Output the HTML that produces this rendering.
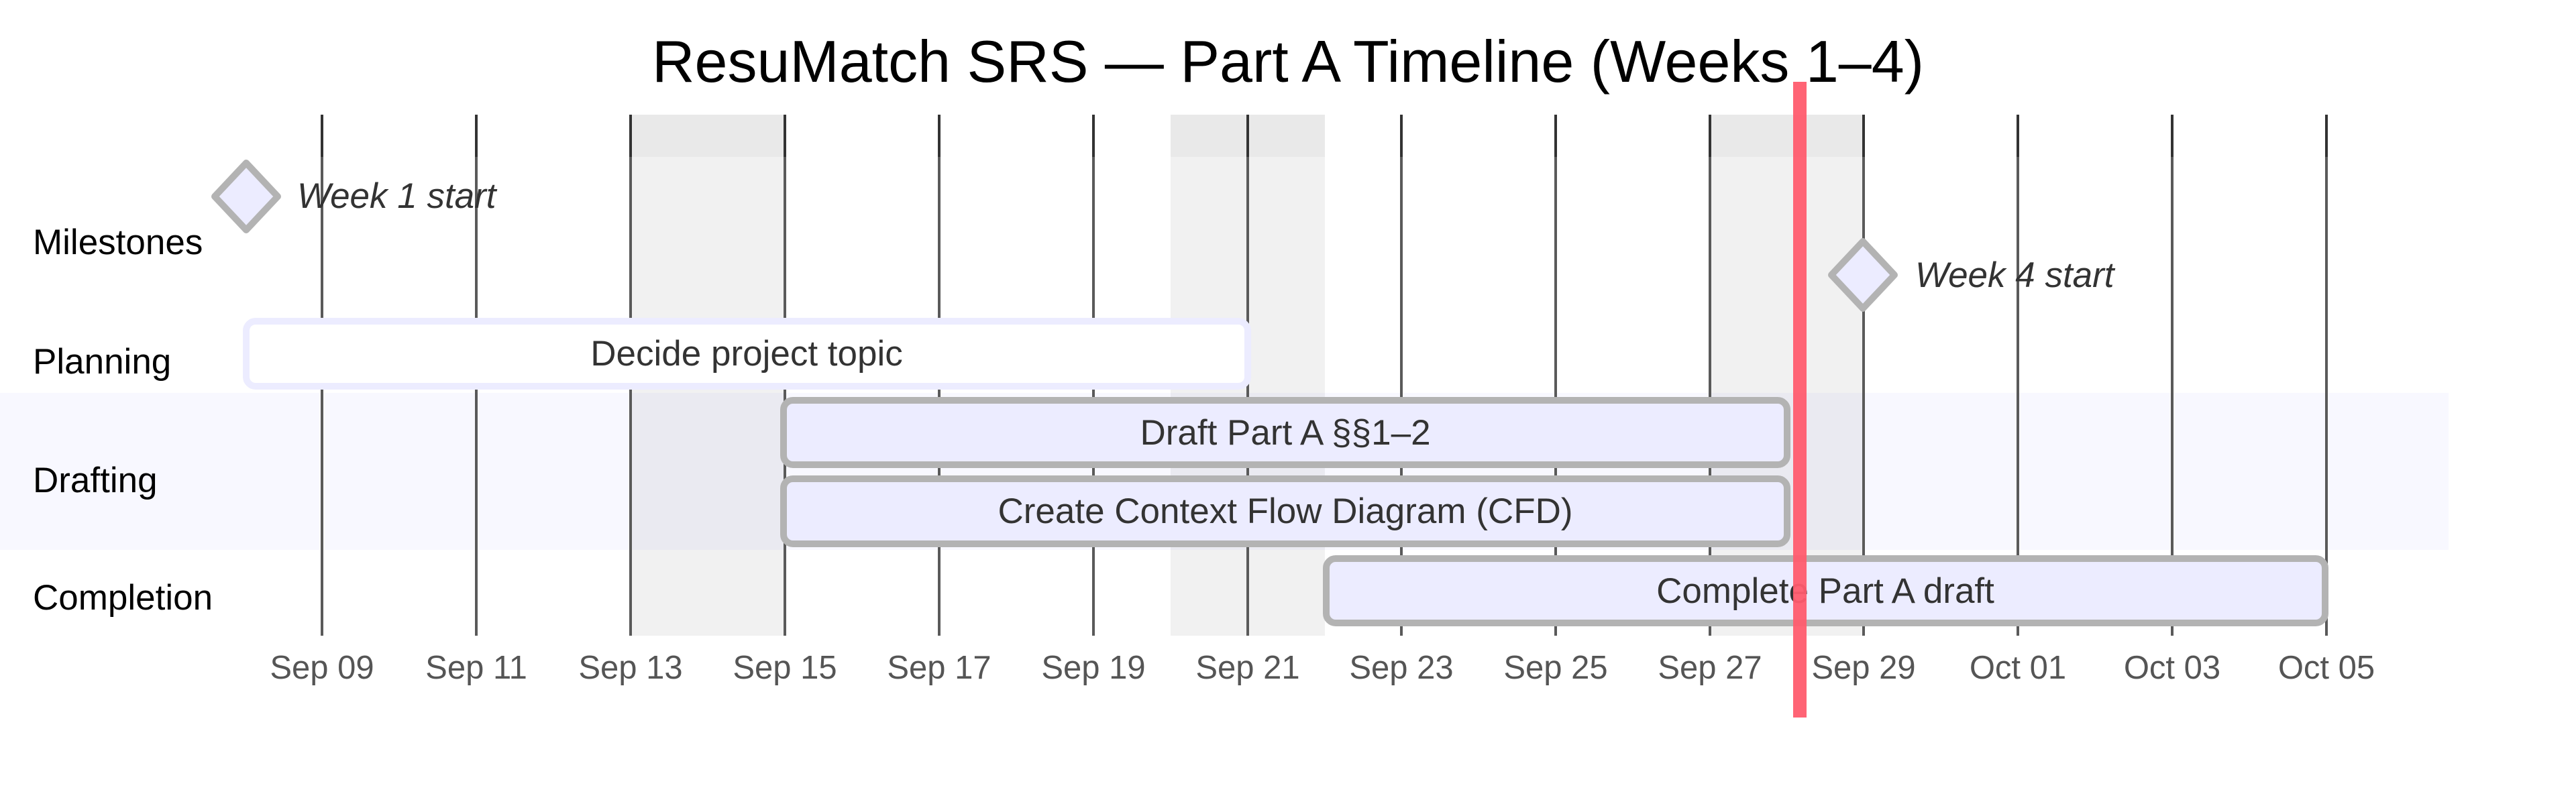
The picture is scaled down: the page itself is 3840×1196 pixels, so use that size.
<!DOCTYPE html>
<html><head><meta charset="utf-8"><style>html,body{margin:0;padding:0;background:#fff}svg{display:block}</style></head>
<body>
<svg width="3840" height="1196" viewBox="0 0 3840 1196" xmlns="http://www.w3.org/2000/svg" font-family="'Liberation Sans', sans-serif">
<rect width="3840" height="1196" fill="#fff"/>
<text x="1920" y="122" font-size="88" text-anchor="middle" fill="#000">ResuMatch SRS — Part A Timeline (Weeks 1–4)</text>
<rect x="0" y="586" width="3650" height="234" fill="#f8f8ff"/>
<g fill="#000" fill-opacity="0.055">
<rect x="940" y="171" width="230" height="777"/>
<rect x="1745" y="171" width="230" height="777"/>
<rect x="2550" y="171" width="227" height="777"/>
</g>
<g fill="#000" fill-opacity="0.03">
<rect x="940" y="171" width="230" height="63"/>
<rect x="1745" y="171" width="230" height="63"/>
<rect x="2550" y="171" width="227" height="63"/>
</g>
<g stroke="#5a5a5a" stroke-width="4">
<line x1="480" y1="171" x2="480" y2="948"/>
<line x1="710" y1="171" x2="710" y2="948"/>
<line x1="940" y1="171" x2="940" y2="948"/>
<line x1="1170" y1="171" x2="1170" y2="948"/>
<line x1="1400" y1="171" x2="1400" y2="948"/>
<line x1="1630" y1="171" x2="1630" y2="948"/>
<line x1="1860" y1="171" x2="1860" y2="948"/>
<line x1="2089" y1="171" x2="2089" y2="948"/>
<line x1="2319" y1="171" x2="2319" y2="948"/>
<line x1="2549" y1="171" x2="2549" y2="948"/>
<line x1="2778" y1="171" x2="2778" y2="948"/>
<line x1="3008" y1="171" x2="3008" y2="948"/>
<line x1="3238" y1="171" x2="3238" y2="948"/>
<line x1="3468" y1="171" x2="3468" y2="948"/>
</g>
<g stroke="#333" stroke-width="4">
<line x1="480" y1="171" x2="480" y2="234"/><line x1="710" y1="171" x2="710" y2="234"/><line x1="940" y1="171" x2="940" y2="234"/><line x1="1170" y1="171" x2="1170" y2="234"/><line x1="1400" y1="171" x2="1400" y2="234"/><line x1="1630" y1="171" x2="1630" y2="234"/><line x1="1860" y1="171" x2="1860" y2="234"/><line x1="2089" y1="171" x2="2089" y2="234"/><line x1="2319" y1="171" x2="2319" y2="234"/><line x1="2549" y1="171" x2="2549" y2="234"/><line x1="2778" y1="171" x2="2778" y2="234"/><line x1="3008" y1="171" x2="3008" y2="234"/><line x1="3238" y1="171" x2="3238" y2="234"/><line x1="3468" y1="171" x2="3468" y2="234"/>
</g>
<g font-size="49" fill="#555" text-anchor="middle">
<text x="480" y="1012">Sep 09</text><text x="710" y="1012">Sep 11</text><text x="940" y="1012">Sep 13</text><text x="1170" y="1012">Sep 15</text><text x="1400" y="1012">Sep 17</text><text x="1630" y="1012">Sep 19</text><text x="1860" y="1012">Sep 21</text><text x="2089" y="1012">Sep 23</text><text x="2319" y="1012">Sep 25</text><text x="2549" y="1012">Sep 27</text><text x="2778" y="1012">Sep 29</text><text x="3008" y="1012">Oct 01</text><text x="3238" y="1012">Oct 03</text><text x="3468" y="1012">Oct 05</text>
</g>
<g font-size="53" fill="#000">
<text x="49" y="379">Milestones</text>
<text x="49" y="557">Planning</text>
<text x="49" y="734">Drafting</text>
<text x="49" y="909">Completion</text>
</g>
<g fill="#ececff" stroke="#b3b3b3" stroke-width="10" stroke-linejoin="round">
<polygon points="367,243 414,293 367,343 320,293"/>
<polygon points="2777,360 2824,410 2777,460 2730,410"/>
</g>
<g font-size="53" font-style="italic" fill="#333">
<text x="443" y="310">Week 1 start</text>
<text x="2855" y="428">Week 4 start</text>
</g>
<rect x="367" y="479" width="1493" height="97" rx="14" fill="#fff" stroke="#ececff" stroke-width="10"/>
<g fill="#ececff" stroke="#b3b3b3" stroke-width="10">
<rect x="1168" y="597" width="1496" height="96" rx="14"/>
<rect x="1168" y="714" width="1496" height="97" rx="14"/>
<rect x="1977" y="833" width="1489" height="96" rx="14"/>
</g>
<g font-size="53" fill="#333" text-anchor="middle">
<text x="1113" y="545">Decide project topic</text>
<text x="1916" y="663">Draft Part A §§1–2</text>
<text x="1916" y="780">Create Context Flow Diagram (CFD)</text>
<text x="2721" y="899">Complete Part A draft</text>
</g>
<rect x="2673" y="122" width="20" height="948" fill="#ff5c6e" fill-opacity="0.95"/>
</svg>
</body></html>
